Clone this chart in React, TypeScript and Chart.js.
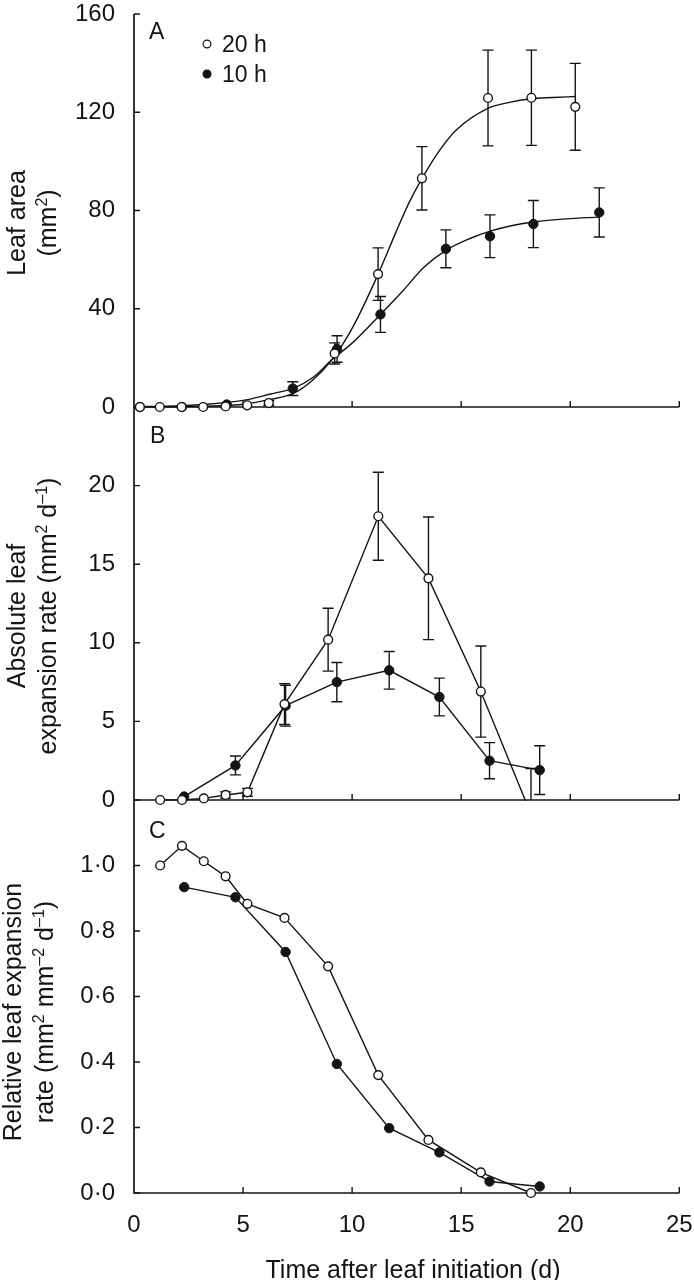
import React, { useEffect, useRef } from 'react';
import { Chart, registerables } from 'chart.js';

Chart.register(...registerables);

const FONT = '"Liberation Sans", Arial, Helvetica, sans-serif';
const INK = '#141414';

// ---------------- data ----------------
const xTicks = [0, 5, 10, 15, 20, 25];
const aTicks = [0, 40, 80, 120, 160];
const bTicks = [0, 5, 10, 15, 20];
const cTicks = [0, 0.2, 0.4, 0.6, 0.8, 1.0];
const seriesNames = ['20 h', '10 h'];

// Panel A – leaf area (mm²)
const aOpenX = [0.27, 1.18, 2.18, 3.17, 4.2, 5.19, 6.18, 9.2, 11.19, 13.2, 16.23, 18.22, 20.23];
const aOpenY = [0, 0, 0, 0, 0.2, 0.7, 1.6, 21.8, 54.1, 93.1, 125.8, 125.9, 122.2];
const aOpenErr = [0, 0, 0, 0, 0, 0, 1, 4.3, 10.7, 12.9, 19.5, 19.4, 17.7];
const aFilledX = [0.27, 2.2, 4.25, 7.28, 9.31, 11.3, 14.3, 16.32, 18.31, 21.33];
const aFilledY = [0, 0, 1.0, 7.5, 23.6, 37.7, 64.4, 69.5, 74.5, 79.2];
const aFilledErr = [0, 0, 0, 2.8, 5.4, 7.3, 7.7, 8.7, 9.6, 10];
// fitted curves
const aOpenFitX = [0.27, 2, 4, 5, 6.26, 7.3, 8.2, 9.08, 10, 11.19, 12, 12.6, 13.2, 14.05, 14.8, 16.2, 17.2, 18.2, 19.2, 20.23];
const aOpenFitY = [0, 0.1, 0.5, 1.1, 3.1, 5.5, 11, 19.3, 32, 54, 71, 83, 93, 105, 113, 121.5, 124, 125.5, 126, 126.4];
const aFilledFitX = [0.27, 2.2, 4.2, 5.2, 6.26, 7.3, 8.2, 9.08, 10, 11.3, 12.3, 13.3, 14.3, 15.4, 16.3, 17.3, 18.3, 19.8, 21.33];
const aFilledFitY = [0.2, 0.5, 1.8, 3, 5.3, 7.6, 12, 19.3, 26, 37.7, 47, 57, 63.8, 68.6, 71.5, 73.8, 75.3, 76.6, 77.3];

// Panels B and C share sampling days
const openX = [1.2, 2.2, 3.2, 4.2, 5.2, 6.9, 8.9, 11.2, 13.5, 15.9, 18.2];
const filledX = [2.3, 4.65, 6.95, 9.3, 11.7, 14.0, 16.3, 18.6];

// Panel B – absolute leaf expansion rate (mm² d⁻¹)
const bOpenY = [0, 0, 0.1, 0.32, 0.49, 6.1, 10.2, 18.05, 14.1, 6.9, -0.9];
const bOpenErr = [0, 0, 0, 0.2, 0.25, 1.3, 2.0, 2.8, 3.9, 2.9, 2.9];
const bFilledY = [0.22, 2.2, 6.0, 7.5, 8.25, 6.55, 2.5, 1.9];
const bFilledErr = [0, 0.6, 1.3, 1.25, 1.2, 1.2, 1.15, 1.55];

// Panel C – relative leaf expansion rate (mm² mm⁻² d⁻¹)
const cOpenY = [1.0, 1.06, 1.013, 0.967, 0.883, 0.84, 0.692, 0.36, 0.162, 0.063, 0.0];
const cFilledY = [0.934, 0.903, 0.736, 0.394, 0.198, 0.124, 0.035, 0.02];

// ---------------- helpers ----------------
const pts = (xs: number[], ys: number[]) => xs.map((x, i) => ({ x, y: ys[i] }));

type Seg = { t: string; sup: boolean };
function parseRich(s: string): Seg[] {
  const out: Seg[] = [];
  const re = /\^\{([^}]*)\}/g;
  let last = 0;
  let m: RegExpExecArray | null;
  while ((m = re.exec(s))) {
    if (m.index > last) out.push({ t: s.slice(last, m.index), sup: false });
    out.push({ t: m[1], sup: true });
    last = re.lastIndex;
  }
  if (last < s.length) out.push({ t: s.slice(last), sup: false });
  return out;
}

function drawRich(ctx: CanvasRenderingContext2D, text: string, x: number, y: number, size: number) {
  const segs = parseRich(text);
  const supSize = size * 0.64;
  const widths = segs.map((s) => {
    ctx.font = `${s.sup ? supSize : size}px ${FONT}`;
    return ctx.measureText(s.t).width;
  });
  const total = widths.reduce((a, b) => a + b, 0);
  let cx = x - total / 2;
  ctx.textAlign = 'left';
  ctx.textBaseline = 'alphabetic';
  segs.forEach((s, i) => {
    ctx.font = `${s.sup ? supSize : size}px ${FONT}`;
    ctx.fillText(s.t, cx, s.sup ? y - size * 0.36 : y);
    cx += widths[i];
  });
}

const errorBars = {
  id: 'errorBars',
  beforeDatasetsDraw(chart: any) {
    const { ctx, chartArea } = chart;
    const xs = chart.scales.x;
    const ys = chart.scales.y;
    ctx.save();
    ctx.beginPath();
    ctx.rect(chartArea.left - 20, chartArea.top - 10, chartArea.right - chartArea.left + 40, chartArea.bottom - chartArea.top + 10);
    ctx.clip();
    ctx.strokeStyle = INK;
    ctx.lineWidth = 1.4;
    chart.data.datasets.forEach((ds: any) => {
      if (!ds.errs) return;
      ds.data.forEach((p: any, i: number) => {
        const e = ds.errs[i];
        if (!e) return;
        const px = xs.getPixelForValue(p.x);
        const y1 = ys.getPixelForValue(p.y + e);
        const y2 = ys.getPixelForValue(p.y - e);
        const w = 5.5;
        ctx.beginPath();
        ctx.moveTo(px, y1);
        ctx.lineTo(px, y2);
        ctx.moveTo(px - w, y1);
        ctx.lineTo(px + w, y1);
        ctx.moveTo(px - w, y2);
        ctx.lineTo(px + w, y2);
        ctx.stroke();
      });
    });
    ctx.restore();
  },
};

type Decor = {
  letter: string;
  letterX: number;
  letterY: number;
  titles: string[];
  titleBase: number[];
  titleCenter: number;
  legend?: boolean;
  xTitle?: { text: string; x: number; y: number };
};

function makeDecor(d: Decor) {
  return {
    id: 'decor',
    beforeDatasetsDraw(chart: any) {
      const { ctx, chartArea } = chart;
      const xs = chart.scales.x;
      const ys = chart.scales.y;
      ctx.save();
      ctx.strokeStyle = INK;
      ctx.lineWidth = 1.7;
      ctx.beginPath();
      ctx.moveTo(chartArea.left, chartArea.top);
      ctx.lineTo(chartArea.left, chartArea.bottom);
      ctx.lineTo(chartArea.right, chartArea.bottom);
      ctx.stroke();
      ctx.lineWidth = 1.4;
      ctx.beginPath();
      ys.ticks.forEach((t: any) => {
        const py = ys.getPixelForValue(t.value);
        ctx.moveTo(chartArea.left, py);
        ctx.lineTo(chartArea.left + 6, py);
      });
      xTicks.forEach((v) => {
        if (v === 0) return;
        const px = xs.getPixelForValue(v);
        ctx.moveTo(px, chartArea.bottom);
        ctx.lineTo(px, chartArea.bottom - 6);
      });
      ctx.stroke();
      ctx.restore();
    },
    afterDraw(chart: any) {
      const { ctx } = chart;
      ctx.save();
      ctx.fillStyle = INK;
      ctx.font = `23px ${FONT}`;
      ctx.textAlign = 'left';
      ctx.textBaseline = 'alphabetic';
      ctx.fillText(d.letter, d.letterX, d.letterY);
      // y titles (rotated)
      d.titles.forEach((t, i) => {
        ctx.save();
        ctx.translate(d.titleBase[i], d.titleCenter);
        ctx.rotate(-Math.PI / 2);
        drawRich(ctx, t, 0, 0, 25);
        ctx.restore();
      });
      if (d.legend) {
        const rows = [
          { y: 44, open: true, name: seriesNames[0] },
          { y: 74, open: false, name: seriesNames[1] },
        ];
        rows.forEach((r) => {
          ctx.beginPath();
          ctx.arc(207, r.y, 3.9, 0, Math.PI * 2);
          ctx.fillStyle = r.open ? '#fff' : INK;
          ctx.fill();
          ctx.strokeStyle = INK;
          ctx.lineWidth = 1.2;
          ctx.stroke();
          ctx.fillStyle = INK;
          ctx.font = `23px ${FONT}`;
          ctx.textAlign = 'left';
          ctx.fillText(r.name, 222, r.y + 8);
        });
      }
      if (d.xTitle) {
        ctx.fillStyle = INK;
        drawRich(ctx, d.xTitle.text, d.xTitle.x, d.xTitle.y, 25);
      }
      ctx.restore();
    },
  };
}

function buildConfig(opts: {
  datasets: any[];
  yMax: number;
  yTicks: number[];
  fmt: (v: number) => string;
  showX: boolean;
  padTop: number;
  padBottom: number;
  decor: Decor;
}): any {
  return {
    type: 'line',
    data: { datasets: opts.datasets },
    options: {
      animation: false,
      responsive: false,
      devicePixelRatio: 1,
      events: [],
      layout: { padding: { left: 0, right: 694 - 679.3, top: opts.padTop, bottom: opts.padBottom } },
      plugins: { legend: { display: false }, tooltip: { enabled: false } },
      scales: {
        x: {
          type: 'linear',
          min: 0,
          max: 25,
          display: opts.showX,
          grid: { display: false, drawTicks: false },
          border: { display: false },
          ticks: {
            color: INK,
            font: { family: FONT, size: 24 },
            padding: 18,
            maxRotation: 0,
            autoSkip: false,
            callback: (v: any) => String(v),
          },
          afterBuildTicks: (s: any) => {
            s.ticks = xTicks.map((v) => ({ value: v }));
          },
          afterFit: (s: any) => {
            s.height = opts.showX ? 87 : 0;
            s.paddingLeft = 0;
            s.paddingRight = 0;
          },
        },
        y: {
          type: 'linear',
          min: 0,
          max: opts.yMax,
          grid: { display: false, drawTicks: false },
          border: { display: false },
          ticks: {
            color: INK,
            font: { family: FONT, size: 24 },
            padding: 19,
            autoSkip: false,
            callback: (v: any) => opts.fmt(Number(v)),
          },
          afterBuildTicks: (s: any) => {
            s.ticks = opts.yTicks.map((v) => ({ value: v }));
          },
          afterFit: (s: any) => {
            s.width = 134;
            s.paddingTop = 0;
            s.paddingBottom = 0;
          },
        },
      },
    },
    plugins: [errorBars, makeDecor(opts.decor)],
  };
}

const openPoint = {
  showLine: false,
  pointRadius: 4.4,
  pointBackgroundColor: '#ffffff',
  pointBorderColor: INK,
  pointBorderWidth: 1.4,
  clip: 8,
};
const filledPoint = {
  showLine: false,
  pointRadius: 4.7,
  pointBackgroundColor: INK,
  pointBorderColor: INK,
  pointBorderWidth: 1,
  clip: 8,
};
const plainLine = {
  borderColor: INK,
  borderWidth: 1.4,
  pointRadius: 0,
  fill: false,
};

function buildA() {
  return buildConfig({
    datasets: [
      { label: seriesNames[0], data: pts(aOpenX, aOpenY), errs: aOpenErr, ...openPoint },
      { label: seriesNames[1], data: pts(aFilledX, aFilledY), errs: aFilledErr, ...filledPoint },
      { label: 'fit 20 h', data: pts(aOpenFitX, aOpenFitY), ...plainLine, cubicInterpolationMode: 'monotone', clip: 4 },
      { label: 'fit 10 h', data: pts(aFilledFitX, aFilledFitY), ...plainLine, cubicInterpolationMode: 'monotone', clip: 4 },
    ],
    yMax: 160,
    yTicks: aTicks,
    fmt: (v) => String(v),
    showX: false,
    padTop: 14,
    padBottom: 13,
    decor: {
      letter: 'A',
      letterX: 149,
      letterY: 39,
      titles: ['Leaf area', '(mm^{2})'],
      titleBase: [25, 56],
      titleCenter: 223,
      legend: true,
    },
  });
}

function buildB() {
  const clipPts = { left: 10, right: 10, top: 10, bottom: 6 };
  const clipLine = { left: 4, right: 4, top: 4, bottom: 0.7 };
  return buildConfig({
    datasets: [
      { label: seriesNames[0], data: pts(openX, bOpenY), errs: bOpenErr, ...openPoint, clip: clipPts },
      { label: seriesNames[1], data: pts(filledX, bFilledY), errs: bFilledErr, ...filledPoint, clip: clipPts },
      { label: 'line 20 h', data: pts(openX, bOpenY), ...plainLine, clip: clipLine },
      { label: 'line 10 h', data: pts(filledX, bFilledY), ...plainLine, clip: clipLine },
    ],
    yMax: 25,
    yTicks: bTicks,
    fmt: (v) => String(v),
    showX: false,
    padTop: 14,
    padBottom: 13,
    decor: {
      letter: 'B',
      letterX: 150,
      letterY: 50,
      titles: ['Absolute leaf', 'expansion rate (mm^{2} d^{–1})'],
      titleBase: [25, 56],
      titleCenter: 223,
    },
  });
}

function buildC() {
  return buildConfig({
    datasets: [
      { label: seriesNames[0], data: pts(openX, cOpenY), ...openPoint },
      { label: seriesNames[1], data: pts(filledX, cFilledY), ...filledPoint },
      { label: 'line 20 h', data: pts(openX, cOpenY), ...plainLine, clip: 4 },
      { label: 'line 10 h', data: pts(filledX, cFilledY), ...plainLine, clip: 4 },
    ],
    yMax: 1.2,
    yTicks: cTicks,
    fmt: (v) => v.toFixed(1).replace('.', '·'),
    showX: true,
    padTop: 14,
    padBottom: 0,
    decor: {
      letter: 'C',
      letterX: 149,
      letterY: 52,
      titles: ['Relative leaf expansion', 'rate (mm^{2} mm^{–2} d^{–1})'],
      titleBase: [21, 53],
      titleCenter: 226,
      xTitle: { text: 'Time after leaf initiation (d)', x: 413, y: 492 },
    },
  });
}

function Panel({ top, height, build }: { top: number; height: number; build: () => any }) {
  const ref = useRef<HTMLCanvasElement | null>(null);
  useEffect(() => {
    if (!ref.current) return;
    const chart = new Chart(ref.current, build());
    return () => chart.destroy();
  }, [build]);
  return (
    <canvas
      ref={ref}
      width={694}
      height={height}
      style={{ position: 'absolute', left: 0, top, width: 694, height, display: 'block' }}
    />
  );
}

export default function App() {
  return (
    <div
      style={{
        position: 'absolute',
        left: 0,
        top: 0,
        width: 694,
        height: 1280,
        background: '#ffffff',
        overflow: 'hidden',
      }}
    >
      <Panel top={0} height={420} build={buildA} />
      <Panel top={393} height={420} build={buildB} />
      <Panel top={786} height={494} build={buildC} />
    </div>
  );
}
